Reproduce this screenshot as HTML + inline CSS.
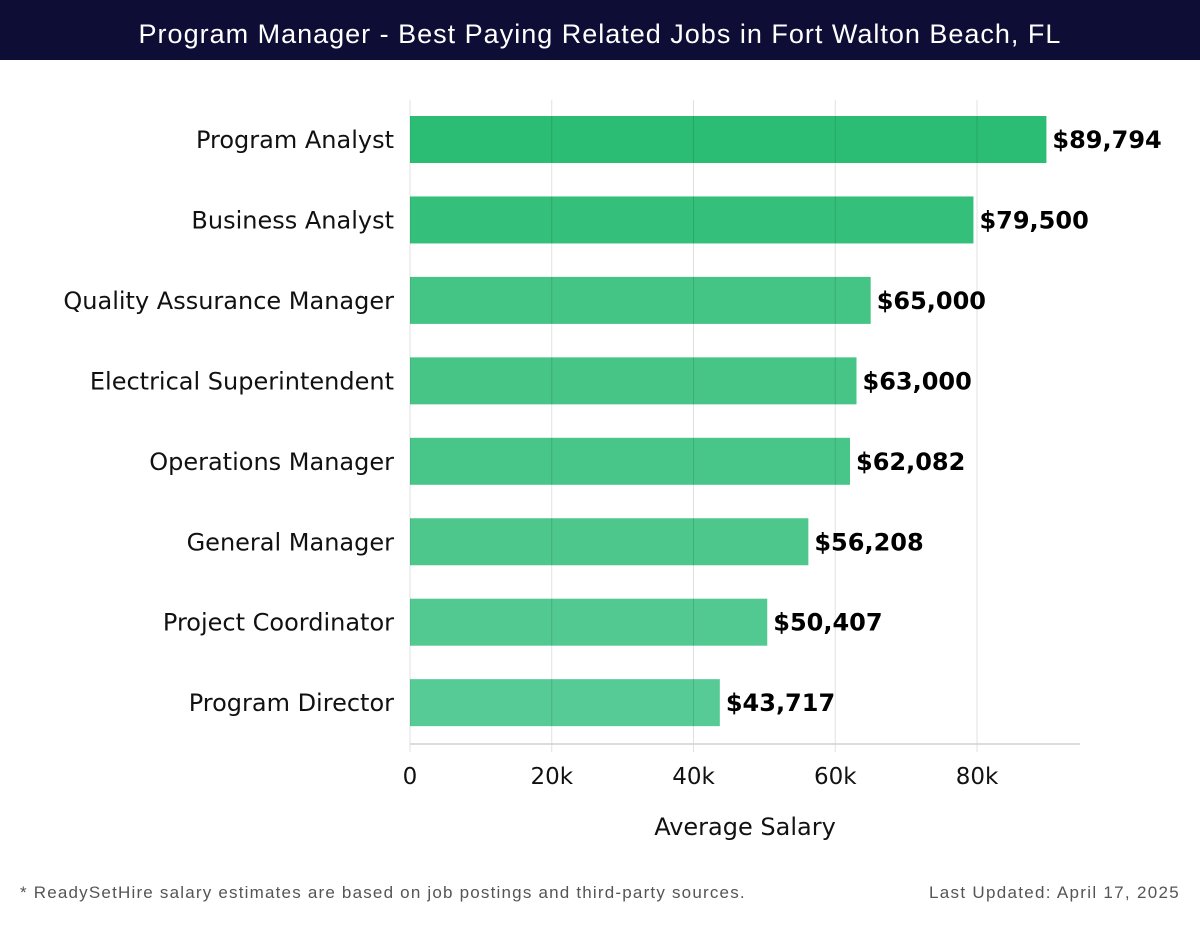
<!DOCTYPE html>
<html><head><meta charset="utf-8"><style>
body{margin:0;width:1200px;height:920px;background:#fff;overflow:hidden;font-family:"Liberation Sans",sans-serif}
.dj{font-family:"DejaVu Sans",sans-serif}
</style></head><body>
<svg width="1200" height="920" xmlns="http://www.w3.org/2000/svg">
<rect x="0" y="0" width="1200" height="60" fill="#0d0d35"/>
<text x="600" y="43" text-anchor="middle" fill="#fff" font-size="27" letter-spacing="1">Program Manager - Best Paying Related Jobs in Fort Walton Beach, FL</text>
<g id="grid"></g><g id="bars"></g><g id="labels" class="dj"></g>
<line x1="410" y1="744" x2="1080" y2="744" stroke="#d0d0d0" stroke-width="1.5"/>
<text class="dj" x="745" y="835" text-anchor="middle" font-size="24" fill="#111">Average Salary</text>
<text x="20" y="898" font-size="17" letter-spacing="1.2" fill="#555">* ReadySetHire salary estimates are based on job postings and third-party sources.</text>
<text x="1180" y="898" text-anchor="end" font-size="17" letter-spacing="1.3" fill="#555">Last Updated: April 17, 2025</text>
</svg>
<script>
const categories=["Program Analyst","Business Analyst","Quality Assurance Manager","Electrical Superintendent","Operations Manager","General Manager","Project Coordinator","Program Director"];
const values=[89794,79500,65000,63000,62082,56208,50407,43717];
const valueLabels=["$89,794","$79,500","$65,000","$63,000","$62,082","$56,208","$50,407","$43,717"];
const ticks=[0,20000,40000,60000,80000];
const tickLabels=["0","20k","40k","60k","80k"];
const NS="http://www.w3.org/2000/svg";
const x=v=>410+v*(141.75/20000);
const yc=i=>140+i*80.45;
function mk(t,a){const e=document.createElementNS(NS,t);for(const k in a)e.setAttribute(k,a[k]);return e;}
const colors=["#2bbd73","#34c07a","#44c485","#46c587","#48c689","#4ec78d","#52c991","#57cb96"];
const G=document.getElementById('grid'),B=document.getElementById('bars'),L=document.getElementById('labels');
categories.forEach((c,i)=>{
 const r=mk('rect',{x:x(0),y:yc(i)-24,width:x(values[i])-x(0),height:47,fill:colors[i]});
 
 
 B.appendChild(r);
 const t=mk('text',{x:394,y:yc(i)+8,'text-anchor':'end','font-size':24,fill:'#111'});t.textContent=c;
 
 
 L.appendChild(t);
 const v=mk('text',{x:x(values[i])+6,y:yc(i)+8,'font-size':24,'font-weight':'bold',fill:'#000'});v.textContent=valueLabels[i];
 
 
 L.appendChild(v);
});
ticks.forEach((tk,i)=>{
 const l=mk('line',{x1:x(tk),y1:100,x2:x(tk),y2:752,stroke:'#000','stroke-opacity':0.12,'stroke-width':1});
 
 
 B.parentNode.insertBefore(l,L);
 const t=mk('text',{x:x(tk),y:784,'text-anchor':'middle','font-size':23,fill:'#111'});t.textContent=tickLabels[i];
 
 
 L.appendChild(t);
});
</script>
</body></html>
